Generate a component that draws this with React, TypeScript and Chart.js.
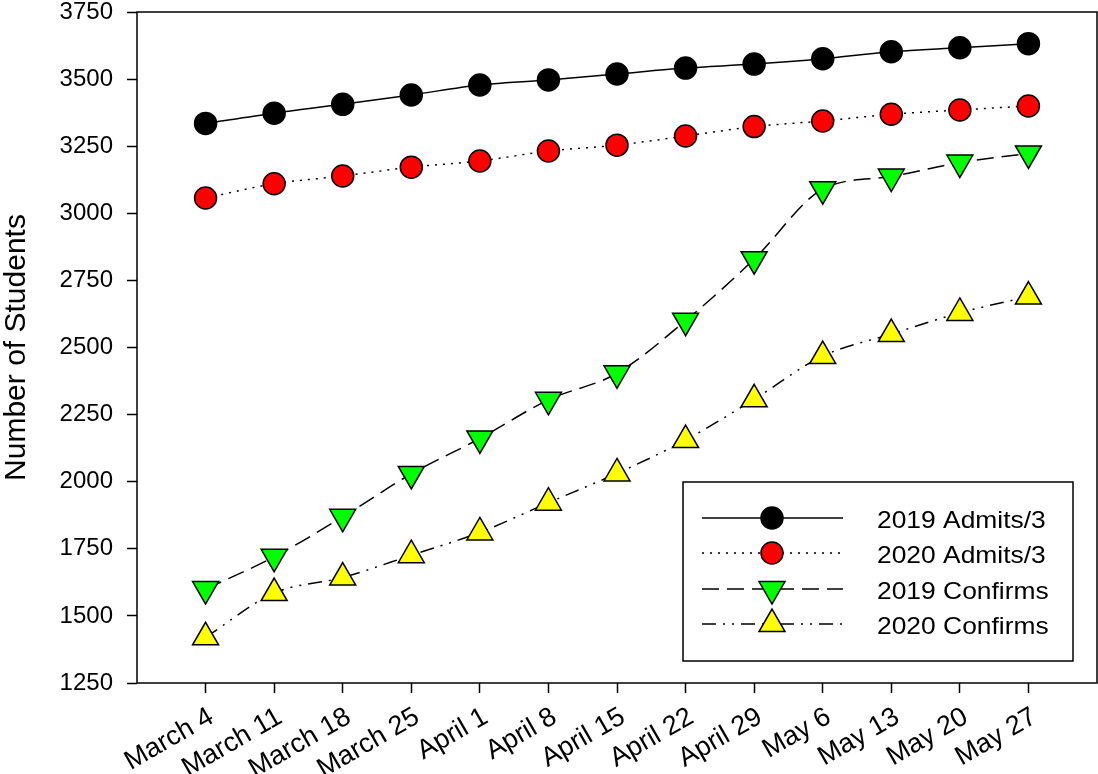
import React, { useEffect, useRef } from 'react';
import { Chart, registerables } from 'chart.js';

Chart.register(...registerables);

const categories = ['March 4', 'March 11', 'March 18', 'March 25', 'April 1', 'April 8', 'April 15', 'April 22', 'April 29', 'May 6', 'May 13', 'May 20', 'May 27'];
const admits2019 = [3335, 3373, 3406, 3441, 3478, 3497, 3519, 3541, 3556, 3576, 3602, 3617, 3632];
const admits2020 = [3057, 3110, 3139, 3172, 3195, 3232, 3254, 3288, 3323, 3344, 3369, 3385, 3400];
const confirms2019 = [1600, 1720, 1869, 2029, 2161, 2305, 2404, 2600, 2829, 3090, 3137, 3189, 3223];
const confirms2020 = [1420, 1585, 1643, 1726, 1811, 1922, 2031, 2155, 2307, 2468, 2550, 2629, 2690];
const yTicks = [1250, 1500, 1750, 2000, 2250, 2500, 2750, 3000, 3250, 3500, 3750];
const seriesLabels = ['2019 Admits/3', '2020 Admits/3', '2019 Confirms', '2020 Confirms'];
const yTitle = 'Number of Students';

const FONT = '"Liberation Sans", Arial, Helvetica, sans-serif';

const toPoints = (vals: number[]) => vals.map((v, i) => ({ x: i, y: v }));

function drawMarker(ctx: CanvasRenderingContext2D, style: string, radius: number, rot: number, x: number, y: number, fill: string) {
  ctx.save();
  ctx.beginPath();
  if (style === 'circle') {
    ctx.arc(x, y, radius, 0, Math.PI * 2);
  } else {
    let rad = (rot * Math.PI) / 180;
    ctx.moveTo(x + Math.sin(rad) * radius, y - Math.cos(rad) * radius);
    rad += (2 * Math.PI) / 3;
    ctx.lineTo(x + Math.sin(rad) * radius, y - Math.cos(rad) * radius);
    rad += (2 * Math.PI) / 3;
    ctx.lineTo(x + Math.sin(rad) * radius, y - Math.cos(rad) * radius);
    ctx.closePath();
  }
  ctx.fillStyle = fill;
  ctx.fill();
  ctx.lineWidth = 1.5;
  ctx.strokeStyle = '#000';
  ctx.setLineDash([]);
  ctx.stroke();
  ctx.restore();
}

const framePlugin = {
  id: 'frame',
  beforeDatasetsDraw(chart: any) {
    const { ctx, chartArea } = chart;
    ctx.save();
    ctx.strokeStyle = '#000';
    ctx.lineWidth = 1.5;
    ctx.strokeRect(chartArea.left, chartArea.top, chartArea.right - chartArea.left, chartArea.bottom - chartArea.top);
    ctx.restore();
  },
};

const legendPlugin = {
  id: 'customLegend',
  afterDatasetsDraw(chart: any) {
    const { ctx, chartArea } = chart;
    const w = 390;
    const h = 179;
    const left = chartArea.right - 24 - w;
    const top = chartArea.bottom - 22 - h;
    ctx.save();
    ctx.fillStyle = '#fff';
    ctx.fillRect(left, top, w, h);
    ctx.strokeStyle = '#000';
    ctx.lineWidth = 1.5;
    ctx.strokeRect(left, top, w, h);
    const rows = [36, 71, 107, 142];
    chart.data.datasets.forEach((ds: any, i: number) => {
      const y = top + rows[i];
      ctx.save();
      ctx.beginPath();
      ctx.setLineDash(ds.borderDash || []);
      ctx.lineWidth = ds.borderWidth;
      ctx.strokeStyle = '#000';
      ctx.moveTo(left + 19, y);
      ctx.lineTo(left + 160, y);
      ctx.stroke();
      ctx.restore();
      drawMarker(ctx, ds.pointStyle, ds.pointRadius, ds.pointRotation || 0, left + 89, y, ds.pointBackgroundColor);
      ctx.save();
      ctx.translate(left + 194, y + 3);
      ctx.scale(1.1, 1);
      ctx.fillStyle = '#000';
      ctx.font = `24px ${FONT}`;
      ctx.textAlign = 'left';
      ctx.textBaseline = 'middle';
      ctx.fillText(ds.label, 0, 0);
      ctx.restore();
    });
    ctx.restore();
  },
};

const zeroPad = (scale: any) => {
  scale.paddingTop = 0;
  scale.paddingBottom = 0;
  scale.paddingLeft = 0;
  scale.paddingRight = 0;
};

export default function App() {
  const canvasRef = useRef<HTMLCanvasElement | null>(null);

  useEffect(() => {
    const canvas = canvasRef.current;
    if (!canvas) return;
    Chart.defaults.color = '#000';
    const common = {
      borderColor: '#000',
      borderWidth: 1.5,
      pointBorderColor: '#000',
      pointBorderWidth: 1.5,
      cubicInterpolationMode: 'monotone' as const,
      fill: false,
    };
    const chart = new Chart(canvas, {
      type: 'line',
      data: {
        datasets: [
          { ...common, label: seriesLabels[0], data: toPoints(admits2019), pointStyle: 'circle', pointRadius: 11, pointBackgroundColor: '#000000', borderDash: [] },
          { ...common, label: seriesLabels[1], data: toPoints(admits2020), pointStyle: 'circle', pointRadius: 11, pointBackgroundColor: '#ff0000', borderDash: [2, 6] },
          { ...common, label: seriesLabels[2], data: toPoints(confirms2019), pointStyle: 'triangle', pointRotation: 180, pointRadius: 15, pointBackgroundColor: '#00ff00', borderDash: [17, 8] },
          { ...common, label: seriesLabels[3], data: toPoints(confirms2020), pointStyle: 'triangle', pointRotation: 0, pointRadius: 15, pointBackgroundColor: '#ffff00', borderDash: [14, 7, 2, 7, 2, 7] },
        ] as any,
      },
      options: {
        animation: false,
        responsive: false,
        devicePixelRatio: 1,
        layout: { autoPadding: false, padding: { top: 12, right: 1, left: 0, bottom: 0 } },
        plugins: { legend: { display: false }, tooltip: { enabled: false } },
        scales: {
          x: {
            type: 'linear',
            min: -1,
            max: categories.length,
            afterBuildTicks: (scale: any) => {
              scale.ticks = categories.map((_, i) => ({ value: i }));
            },
            afterFit: (scale: any) => {
              scale.height = 91;
              zeroPad(scale);
            },
            grid: { drawOnChartArea: false, drawTicks: true, tickLength: 10, tickColor: '#000', tickWidth: 1.5 },
            border: { display: false },
            ticks: {
              autoSkip: false,
              maxRotation: 30,
              minRotation: 30,
              padding: 8,
              labelOffset: 6,
              color: '#000',
              font: { family: FONT, size: 27 },
              callback: (v: any) => categories[v] ?? '',
            },
          },
          y: {
            type: 'linear',
            min: yTicks[0],
            max: yTicks[yTicks.length - 1],
            afterBuildTicks: (scale: any) => {
              scale.ticks = yTicks.map((v) => ({ value: v }));
            },
            afterFit: (scale: any) => {
              scale.width = 137;
              zeroPad(scale);
            },
            grid: { drawOnChartArea: false, drawTicks: true, tickLength: 10, tickColor: '#000', tickWidth: 1.5 },
            border: { display: false },
            ticks: {
              padding: 14,
              color: '#000',
              font: { family: FONT, size: 24, lineHeight: 1 },
              callback: (v: any) => String(v),
            },
            title: {
              display: true,
              text: yTitle,
              color: '#000',
              font: { family: FONT, size: 30, lineHeight: 1.1 },
              padding: { top: 0, bottom: 0 },
            },
          },
        },
      } as any,
      plugins: [framePlugin, legendPlugin],
    });
    return () => chart.destroy();
  }, []);

  return (
    <div style={{ position: 'fixed', left: 0, top: 0, width: 1098, height: 774, background: '#fff' }}>
      <canvas ref={canvasRef} width={1098} height={774} style={{ display: 'block' }} />
    </div>
  );
}
